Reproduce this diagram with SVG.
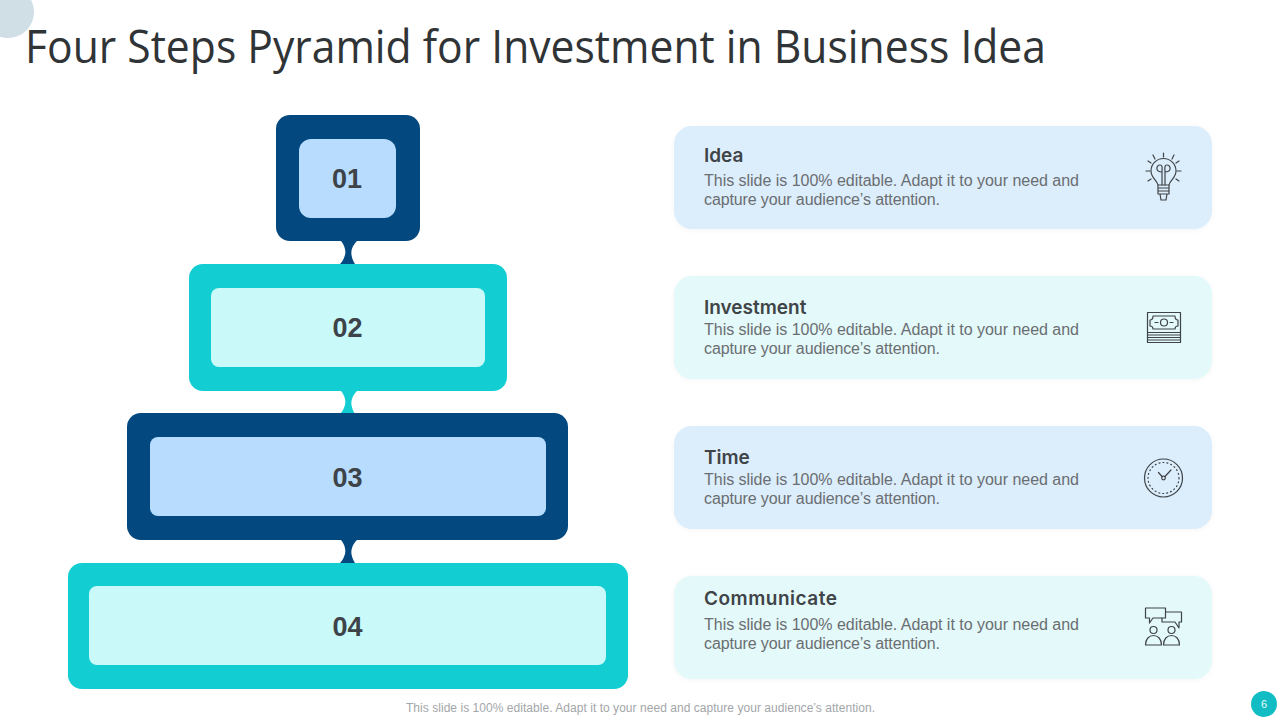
<svg xmlns="http://www.w3.org/2000/svg" width="1280" height="720" viewBox="0 0 1280 720">
<defs>
<filter id="soft" x="-5%" y="-15%" width="110%" height="130%"><feDropShadow dx="0" dy="1" stdDeviation="2.500" flood-color="#000" flood-opacity="0.04"/></filter>
</defs>
<style>
text{font-family:"Liberation Sans",Arial,sans-serif}
.title{font-size:45px;fill:#303436;font-family:"Open Sans","Liberation Sans",sans-serif}
.num{font-size:27px;font-weight:700;fill:#3d4348;text-anchor:middle;font-family:"Liberation Sans",Arial,sans-serif}
.h{font-size:19px;font-weight:600;fill:#3f4448;font-family:Inter,"Liberation Sans",sans-serif}
.b{font-size:16px;fill:#6a6e72}
.ic{fill:none;stroke:#3f4448;stroke-width:1.200;stroke-linecap:round;stroke-linejoin:round}
.navy{fill:#03487e}.teal{fill:#12cdd1}.ln{fill:#b7dcfd}.lt{fill:#c9f9f9}
.c1{fill:#dcedfb}.c2{fill:#e4f9f9}
</style>
<rect width="1280" height="720" fill="#fff"/>
<circle cx="8" cy="12" r="26" fill="#d0dee6"/>
<text class="title" x="25" y="63" textLength="1021" lengthAdjust="spacingAndGlyphs">Four Steps Pyramid for Investment in Business Idea</text>
<g id="connectors">
<path class="navy" d="M341 241C345 246 346 251 345 255C344 258 343 261 340 264H355C353 261 352 258 351.500 255C351 251 352 246 357 241Z"/>
<path class="teal" d="M341 391C345 396 346 401 345 405C344 408 343 411 340 414H355C353 411 352 408 351.500 405C351 401 352 396 357 391Z"/>
<path class="navy" d="M341 540C345 545 346 550 345 554C344 557 343 560 340 563H355C353 560 352 557 351.500 554C351 550 352 545 357 540Z"/>
</g>
<g id="step-01"><rect class="navy" x="276" y="115" width="144" height="126" rx="14"/><rect class="ln" x="299" y="139" width="97" height="79" rx="12"/><text class="num" x="347" y="188">01</text></g>
<g id="step-02"><rect class="teal" x="189" y="264" width="318" height="127" rx="14"/><rect class="lt" x="211" y="288" width="274" height="79" rx="8"/><text class="num" x="347.500" y="337">02</text></g>
<g id="step-03"><rect class="navy" x="127" y="413" width="441" height="127" rx="14"/><rect class="ln" x="150" y="437" width="396" height="79" rx="8"/><text class="num" x="347.500" y="487">03</text></g>
<g id="step-04"><rect class="teal" x="68" y="563" width="560" height="126" rx="14"/><rect class="lt" x="89" y="586" width="517" height="79" rx="8"/><text class="num" x="347.500" y="636">04</text></g>
<g id="card-idea"><rect class="c1" filter="url(#soft)" x="674" y="126" width="538" height="103" rx="18"/>
<text class="h" x="704" y="162">Idea</text>
<text class="b" x="704" y="186" textLength="375">This slide is 100% editable. Adapt it to your need and</text>
<text class="b" x="704" y="205" textLength="236">capture your audience’s attention.</text>
<g class="ic"><path d="M1158 185C1157 180 1151 178 1151 171A12.500 12.500 0 0 1 1176 171C1176 178 1170 180 1169 185Z"/><path d="M1162 185V172M1165 185V172M1162 172C1155 172 1156 165 1160 165C1163 165 1162 169 1162 172M1165 172C1172 172 1171 165 1167 165C1164 165 1165 169 1165 172"/><path d="M1158 185V194H1169V185M1158 188H1169M1158 191H1169M1160 194L1161 200H1166L1167 194"/><path d="M1163.500 153V157M1153 155L1155 159M1174 155L1172 159M1146 171H1150M1177 171H1181M1148 181L1151 179M1179 181L1176 179M1148 161L1151 163M1179 161L1176 163"/></g></g>
<g id="card-investment"><rect class="c2" filter="url(#soft)" x="674" y="276" width="538" height="103" rx="18"/>
<text class="h" x="704" y="314">Investment</text>
<text class="b" x="704" y="335" textLength="375">This slide is 100% editable. Adapt it to your need and</text>
<text class="b" x="704" y="354" textLength="236">capture your audience’s attention.</text>
<g class="ic"><rect x="1147.500" y="312.500" width="33" height="30"/><path d="M1147.500 332.500H1180.500M1147.500 335H1180.500M1147.500 337.500H1180.500M1147.500 340H1180.500"/><path d="M1153 316H1175C1175 319 1176 320 1178 320V326C1176 326 1175 327 1175 329H1153C1153 327 1152 326 1150 326V320C1152 320 1153 319 1153 316Z"/><circle cx="1164" cy="322.500" r="3.500"/><path d="M1155 322.500H1158M1170 322.500H1173"/></g></g>
<g id="card-time"><rect class="c1" filter="url(#soft)" x="674" y="426" width="538" height="103" rx="18"/>
<text class="h" x="704" y="464">Time</text>
<text class="b" x="704" y="485" textLength="375">This slide is 100% editable. Adapt it to your need and</text>
<text class="b" x="704" y="504" textLength="236">capture your audience’s attention.</text>
<g class="ic"><circle cx="1163.500" cy="478" r="19"/><circle cx="1163.500" cy="478" r="15.500" stroke-dasharray="1 3"/><circle cx="1163.500" cy="478" r="1.800"/><path d="M1162 476.500L1158.500 472.500M1165 476.500L1171 470"/></g></g>
<g id="card-communicate"><rect class="c2" filter="url(#soft)" x="674" y="576" width="538" height="103" rx="18"/>
<text class="h" x="704" y="605" textLength="133">Communicate</text>
<text class="b" x="704" y="630" textLength="375">This slide is 100% editable. Adapt it to your need and</text>
<text class="b" x="704" y="649" textLength="236">capture your audience’s attention.</text>
<g class="ic"><path d="M1145.500 608H1165.500V618H1153L1149.500 623V618H1145.500Z"/><path d="M1165.500 612H1181.500V622H1179V628L1175 622H1162V618"/><circle cx="1153.500" cy="630" r="3.500"/><circle cx="1171.500" cy="630" r="3.500"/><path d="M1145.500 645C1145.500 639 1149 635.500 1153.500 635.500C1158 635.500 1161.500 639 1161.500 645ZM1163.500 645C1163.500 639 1167 635.500 1171.500 635.500C1176 635.500 1179.500 639 1179.500 645Z"/></g></g>
<text x="406" y="712" font-size="12" fill="#a3a6a9" textLength="469">This slide is 100% editable. Adapt it to your need and capture your audience’s attention.</text>
<circle cx="1264" cy="704" r="13" fill="#12bcc4"/>
<text x="1264" y="708" font-size="11" fill="#e8fbfb" text-anchor="middle">6</text>
</svg>
